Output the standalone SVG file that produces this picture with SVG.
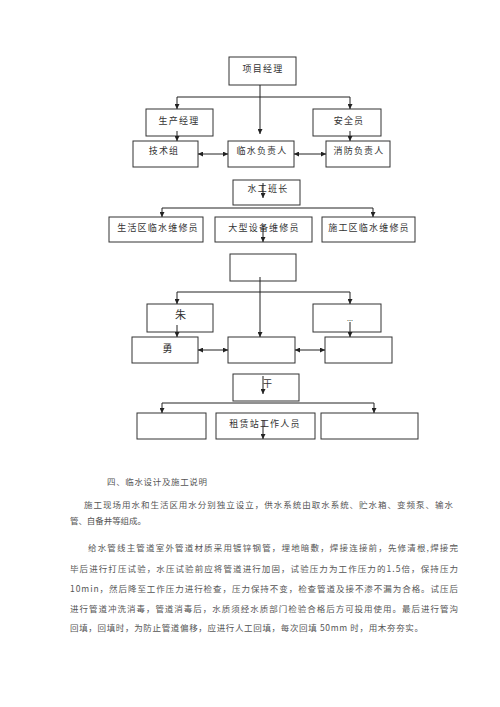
<svg xmlns="http://www.w3.org/2000/svg" width="500" height="707" viewBox="0 0 500 707">
<defs>
<marker id="ah" viewBox="0 0 10 10" refX="10" refY="5" markerWidth="5" markerHeight="5" orient="auto-start-reverse" markerUnits="userSpaceOnUse">
<path d="M0,0 L10,5 L0,10 z" fill="#222"/>
</marker>
<style>
.b{fill:#fff;stroke:#333;stroke-width:1}
.t{font-family:"Noto Sans CJK SC","Liberation Sans",sans-serif;font-size:9px;fill:#333;text-anchor:middle;letter-spacing:1.2px}
.c{fill:none;stroke:#222;stroke-width:1}
.a{marker-end:url(#ah)}
.d{marker-start:url(#ah);marker-end:url(#ah)}
.p{font-family:"Noto Sans CJK SC","Liberation Serif",serif;font-size:8.5px;fill:#555}
</style>
</defs>
<rect width="500" height="707" fill="#fff"/>
<g id="n-xmjl"><rect class="b" x="229" y="57" width="67" height="28"/><text class="t" x="263" y="71.5">项目经理</text></g>
<g id="n-scjl"><rect class="b" x="146" y="109" width="67" height="27"/><text class="t" x="179" y="123.5">生产经理</text></g>
<g id="n-aqy"><rect class="b" x="313" y="109" width="68" height="27"/><text class="t" x="349" y="123.5">安全员</text></g>
<g id="n-jsz"><rect class="b" x="133" y="141" width="65" height="26"/><text class="t" x="164" y="153.5">技术组</text></g>
<g id="n-lsfzr"><rect class="b" x="228" y="141" width="66" height="26"/><text class="t" x="262" y="153.5">临水负责人</text></g>
<g id="n-xffzr"><rect class="b" x="326" y="141" width="64" height="26"/><text class="t" x="359" y="153.5">消防负责人</text></g>
<g id="n-sgbz"><rect class="b" x="233" y="180" width="67" height="25"/><text class="t" x="268" y="191.5">水工班长</text></g>
<g id="n-shq"><rect class="b" x="109" y="217" width="94" height="25"/><text class="t" x="158" y="230.5">生活区临水维修员</text></g>
<g id="n-dxsb"><rect class="b" x="215" y="217" width="97" height="25"/><text class="t" x="264" y="230.5">大型设备维修员</text></g>
<g id="n-sgq"><rect class="b" x="322" y="217" width="93" height="25"/><text class="t" x="369" y="230.5">施工区临水维修员</text></g>
<g id="n-empty1"><rect class="b" x="230" y="254" width="66" height="27"/></g>
<g id="n-zhu"><rect class="b" x="147" y="304" width="66" height="28"/><text class="t" x="181" y="319" style="font-size:11px">朱</text></g>
<g id="n-dots"><rect class="b" x="313" y="304" width="68" height="28"/><text class="t" x="350" y="321" style="font-size:7px;letter-spacing:0">...</text></g>
<g id="n-yong"><rect class="b" x="132" y="337" width="66" height="26"/><text class="t" x="168" y="352" style="font-size:10px">勇</text></g>
<g id="n-empty2"><rect class="b" x="228" y="337" width="67" height="26"/></g>
<g id="n-empty3"><rect class="b" x="325" y="337" width="67" height="26"/></g>
<g id="n-gan"><rect class="b" x="233" y="374" width="66" height="27"/><text class="t" x="268" y="386.5">干</text></g>
<g id="n-empty4"><rect class="b" x="137" y="413" width="69" height="26"/></g>
<g id="n-zlz"><rect class="b" x="216" y="413" width="99" height="26"/><text class="t" x="265" y="426.5">租赁站工作人员</text></g>
<g id="n-empty5"><rect class="b" x="321" y="413" width="97" height="26"/></g>
<g id="connectors">
<path class="c" d="M260,85 V97 M177,97 H350"/>
<path class="c a" d="M177,97 V109"/>
<path class="c a" d="M350,97 V109"/>
<path class="c a" d="M260,97 V134"/>
<path class="c a" d="M177,131 V141"/>
<path class="c a" d="M350,131 V141"/>
<path class="c d" d="M198,154 H228"/>
<path class="c d" d="M294,154 H326"/>
<path class="c a" d="M263,183 V198"/>
<path class="c" d="M162,208 H373"/>
<path class="c a" d="M162,208 V217"/>
<path class="c a" d="M373,208 V217"/>
<path class="c a" d="M263,225 V242"/>
<path class="c a" d="M260,277 V337"/>
<path class="c" d="M177,292 H350"/>
<path class="c a" d="M177,292 V304"/>
<path class="c a" d="M350,292 V304"/>
<path class="c a" d="M177,325 V337"/>
<path class="c a" d="M350,322 V337"/>
<path class="c d" d="M198,350 H228"/>
<path class="c d" d="M295,350 H325"/>
<path class="c a" d="M263,376 V394"/>
<path class="c" d="M162,403 H374"/>
<path class="c a" d="M162,403 V413"/>
<path class="c a" d="M374,403 V413"/>
<path class="c a" d="M263,420 V439"/>
</g>
<g id="text">
<text class="p" x="107" y="484.5" textLength="100" lengthAdjust="spacing">四、临水设计及施工说明</text>
<text class="p" x="84" y="508" textLength="369" lengthAdjust="spacing">施工现场用水和生活区用水分别独立设立，供水系统由取水系统、贮水箱、变频泵、输水</text>
<text class="p" x="70" y="523.5" textLength="76" lengthAdjust="spacing">管、自备井等组成。</text>
<text class="p" x="88" y="551" textLength="370" lengthAdjust="spacing">给水管线主管道室外管道材质采用镀锌钢管，埋地暗敷，焊接连接前，先修清根,焊接完</text>
<text class="p" x="70" y="571.5" textLength="388" lengthAdjust="spacing">毕后进行打压试验，水压试验前应将管道进行加固，试验压力为工作压力的1.5倍，保持压力</text>
<text class="p" x="70" y="591.5" textLength="388" lengthAdjust="spacing">10min，然后降至工作压力进行检查，压力保持不变，检查管道及接不渗不漏为合格。试压后</text>
<text class="p" x="70" y="611.5" textLength="388" lengthAdjust="spacing">进行管道冲洗消毒，管道消毒后，水质须经水质部门检验合格后方可投用使用。最后进行管沟</text>
<text class="p" x="70" y="631" textLength="353" lengthAdjust="spacing">回填，回填时，为防止管道偏移，应进行人工回填，每次回填 50mm 时，用木夯夯实。</text>
</g>
</svg>
